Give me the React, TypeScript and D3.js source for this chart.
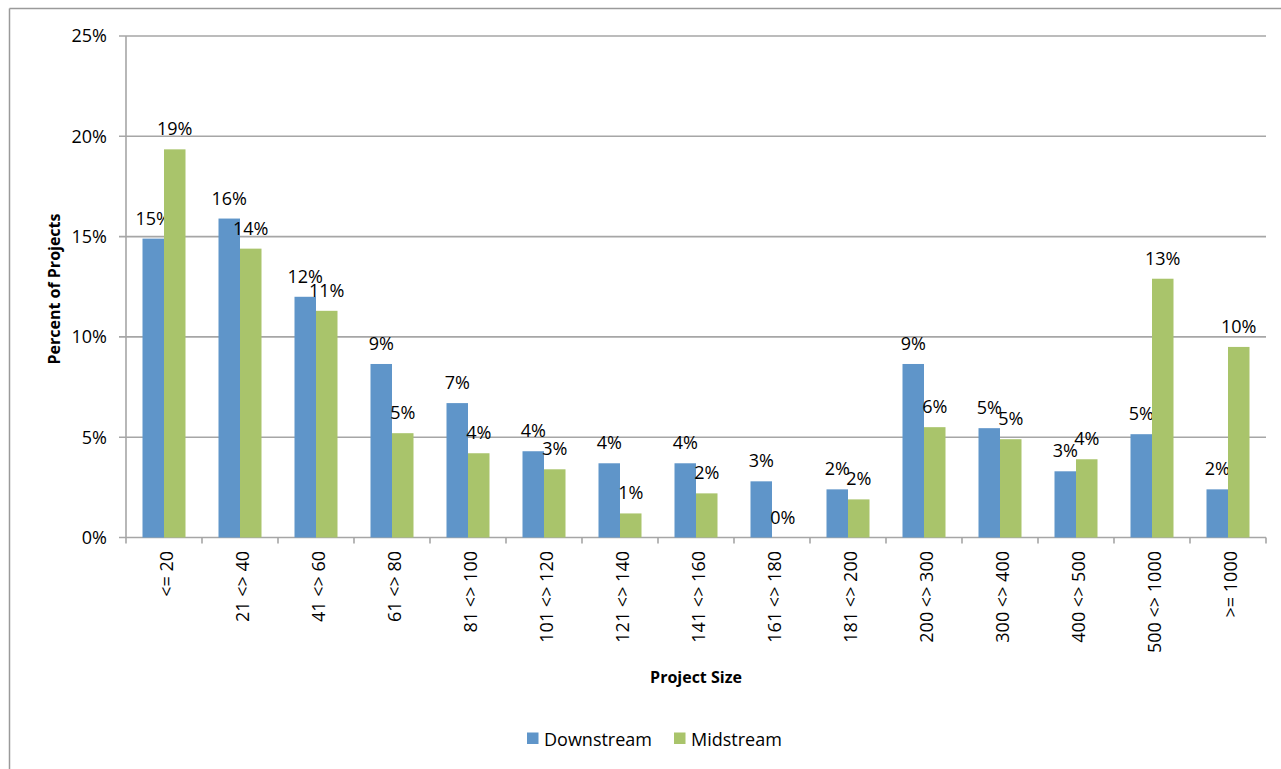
import React from "react";
import * as d3 from "d3";

const categories = [
  "<= 20", "21 <> 40", "41 <> 60", "61 <> 80", "81 <> 100", "101 <> 120",
  "121 <> 140", "141 <> 160", "161 <> 180", "181 <> 200", "200 <> 300",
  "300 <> 400", "400 <> 500", "500 <> 1000", ">= 1000",
];
const downstream = [14.9, 15.9, 12.0, 8.65, 6.7, 4.3, 3.7, 3.7, 2.8, 2.4, 8.65, 5.45, 3.3, 5.15, 2.4];
const midstream = [19.35, 14.4, 11.3, 5.2, 4.2, 3.4, 1.2, 2.2, 0, 1.9, 5.5, 4.9, 3.9, 12.9, 9.5];
const yTicks = [0, 5, 10, 15, 20, 25];
const seriesNames = ["Downstream", "Midstream"];
const colors = ["#5f95c9", "#a9c46b"];

const W = 1281;
const H = 769;
const FONT = "'Open Sans', Lato, sans-serif";
const FS = 18;

export default function App() {
  const left = 126, right = 1266, top = 36, bottom = 537.5;
  const x = d3.scaleBand<string>().domain(categories).range([left, right]).paddingInner(0).paddingOuter(0);
  const y = d3.scaleLinear().domain([0, 25]).range([bottom, top]);
  const bw = 21.5;
  const series = [downstream, midstream];

  return (
    <svg width={W} height={H} style={{ position: "absolute", left: 0, top: 0, background: "#fff" }} fontFamily={FONT}>
      {/* outer border */}
      <line x1={9.5} x2={9.5} y1={8.5} y2={H + 5} stroke="#9a9a9a" strokeWidth={1.5} />
      <line x1={9.5} x2={W + 5} y1={8.5} y2={8.5} stroke="#9a9a9a" strokeWidth={1.5} />

      {/* gridlines */}
      {yTicks.map((t) => (
        <line key={"g" + t} x1={119} x2={right} y1={y(t)} y2={y(t)} stroke="#a6a6a6" strokeWidth={1.6} />
      ))}
      {/* y axis */}
      <line x1={left} x2={left} y1={top} y2={bottom} stroke="#a6a6a6" strokeWidth={1.6} />
      {yTicks.map((t) => (
        <text key={"yl" + t} x={107} y={y(t)} dy="0.36em" textAnchor="end" fontSize={FS} fill="#000">
          {t + "%"}
        </text>
      ))}
      {/* x ticks */}
      {d3.range(categories.length + 1).map((i) => {
        const xx = left + i * x.bandwidth();
        return <line key={"xt" + i} x1={xx} x2={xx} y1={bottom} y2={bottom + 6} stroke="#a6a6a6" strokeWidth={1.6} />;
      })}

      {/* bars */}
      {series.map((vals, si) =>
        vals.map((v, i) => {
          const cx = (x(categories[i]) as number) + x.bandwidth() / 2;
          const bx = cx - bw + si * bw;
          return (
            <g key={si + "-" + i}>
              <rect x={bx} y={y(v)} width={bw} height={bottom - y(v)} fill={colors[si]} />
              <text x={bx + bw / 2} y={y(v) - 14} textAnchor="middle" fontSize={FS} fill="#000">
                {Math.round(v) + "%"}
              </text>
            </g>
          );
        })
      )}

      {/* x labels */}
      {categories.map((c) => {
        const cx = (x(c) as number) + x.bandwidth() / 2;
        return (
          <text key={"xl" + c} transform={`translate(${cx + 9},551) rotate(-90)`} textAnchor="end" fontSize={FS} fill="#000">
            {c}
          </text>
        );
      })}

      {/* axis titles */}
      <text transform={`translate(60,289) rotate(-90)`} textAnchor="middle" fontSize={16} fontWeight="bold" fill="#000">
        Percent of Projects
      </text>
      <text x={696} y={683} textAnchor="middle" fontSize={16} fontWeight="bold" fill="#000">
        Project Size
      </text>

      {/* legend */}
      {seriesNames.map((n, i) => {
        const lx = i === 0 ? 527 : 674;
        return (
          <g key={n}>
            <rect x={lx} y={732.5} width={11.5} height={11.5} fill={colors[i]} />
            <text x={lx + 17} y={745.5} fontSize={FS} fill="#000">{n}</text>
          </g>
        );
      })}
    </svg>
  );
}
